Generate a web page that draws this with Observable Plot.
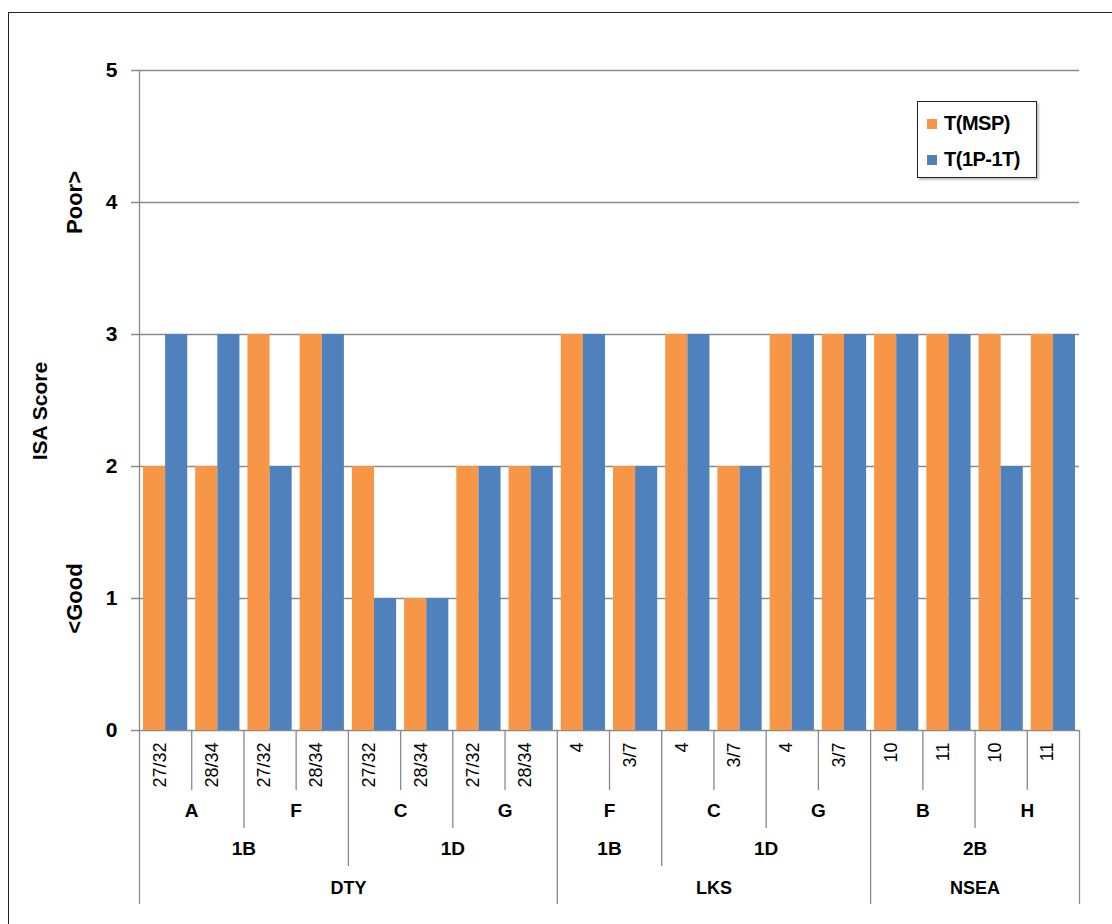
<!DOCTYPE html>
<html><head><meta charset="utf-8">
<script src="https://cdn.jsdelivr.net/npm/d3@7"></script>
<script src="https://cdn.jsdelivr.net/npm/@observablehq/plot@0.6"></script>
<style>
body{margin:0;background:#fff;font-family:"Liberation Sans",Arial,sans-serif}
#wrap{position:relative;width:1112px;height:924px;overflow:hidden}
#chart{position:absolute;left:0;top:0}
#border{position:absolute;left:8px;top:12px;width:1130px;height:940px;border:1px solid #222;pointer-events:none}
#legend{position:absolute;left:917px;top:101px;width:118px;height:75px;border:1px solid #222;box-shadow:2px 2px 2px rgba(0,0,0,0.25);background:#fff}
.item{position:absolute;left:9px;display:flex;align-items:center;font-weight:bold;font-size:20px;color:#000;letter-spacing:-0.5px}
.sw{width:10px;height:10px;margin-right:7px}
</style></head><body>
<div id="wrap"><div id="chart"></div><div id="border"></div><div id="legend"></div></div>
<script>
const seriesNames = ["T(MSP)", "T(1P-1T)"];
const seriesColors = ["#F79646", "#4F81BD"];
const periods = ["27/32","28/34","27/32","28/34","27/32","28/34","27/32","28/34","4","3/7","4","3/7","4","3/7","10","11","10","11"];
const sites   = ["A","A","F","F","C","C","G","G","F","F","C","C","G","G","B","B","H","H"];
const zones   = ["1B","1B","1B","1B","1D","1D","1D","1D","1B","1B","1D","1D","1D","1D","2B","2B","2B","2B"];
const regions = ["DTY","DTY","DTY","DTY","DTY","DTY","DTY","DTY","LKS","LKS","LKS","LKS","LKS","LKS","NSEA","NSEA","NSEA","NSEA"];
const mspScores    = [2,2,3,3,2,1,2,2,3,2,3,2,3,3,3,3,3,3];
const oneP1TScores = [3,3,2,3,1,1,2,2,3,2,3,2,3,3,3,3,2,3];
const yTicks = [0,1,2,3,4,5];
const yTitles = [{y: 1, t: "<Good", dx: -65, size: 22}, {y: 2.42, t: "ISA Score", dx: -99, size: 21}, {y: 4, t: "Poor>", dx: -65, size: 22}];

const n = periods.length;
const rows = periods.map((p, i) => ({i, period: p, msp: mspScores[i], one: oneP1TScores[i]}));
const regionKeys = regions;
const zoneKeys = regions.map((r, i) => r + "|" + zones[i]);
const siteKeys = zoneKeys.map((z, i) => z + "|" + sites[i]);
function runs(keys, labels) {
  const out = [];
  keys.forEach((k, i) => {
    if (i === 0 || keys[i - 1] !== k) out.push({label: labels[i], start: i, end: i + 1});
    else out[out.length - 1].end = i + 1;
  });
  return out;
}
const siteRuns = runs(siteKeys, sites);
const zoneRuns = runs(zoneKeys, zones);
const regionRuns = runs(regionKeys, regions);
const bounds = d3.range(n + 1).map(b => {
  let level;
  if (b === 0 || b === n || regionKeys[b] !== regionKeys[b - 1]) level = 4;
  else if (zoneKeys[b] !== zoneKeys[b - 1]) level = 3;
  else if (siteKeys[b] !== siteKeys[b - 1]) level = 2;
  else level = 1;
  return {b, level};
});
const depth = {1: 60, 2: 98, 3: 136, 4: 174};
const gray = "#8a8a8a";
const font = "'Liberation Sans', Arial, sans-serif";

const chart = Plot.plot({
  width: 1112, height: 924,
  marginLeft: 139, marginRight: 33, marginTop: 70, marginBottom: 194,
  style: {fontFamily: font, background: "transparent", overflow: "visible"},
  x: {type: "linear", domain: [0, n], axis: null},
  y: {domain: [0, 5], axis: null},
  marks: [
    Plot.ruleY(yTicks, {y: d => d, stroke: gray, strokeWidth: 1.3, insetLeft: -8}),
    Plot.ruleX([0], {x: d => d, stroke: gray, strokeWidth: 1.3}),
    Plot.rectY(rows, {x1: d => d.i, x2: d => d.i + 0.5, y1: 0, y2: "msp", fill: seriesColors[0], insetLeft: 4}),
    Plot.rectY(rows, {x1: d => d.i + 0.5, x2: d => d.i + 1, y1: 0, y2: "one", fill: seriesColors[1], insetRight: 4}),
    ...[1, 2, 3, 4].map(L => Plot.ruleX(bounds.filter(d => d.level === L), {x: "b", y1: 0, y2: 0, insetBottom: -depth[L], stroke: gray, strokeWidth: 1.3})),
    Plot.axisY(yTicks, {anchor: "left", tickSize: 0, tickPadding: 22, tickFormat: d3.format("d"), fontSize: 21, fontWeight: "bold", label: null, fill: "#000"}),
    Plot.text(yTitles, {y: "y", text: "t", frameAnchor: "left", textAnchor: "middle", rotate: -90, fontSize: d => d.size, fontWeight: "bold", fill: "#000"}),
    Plot.text(rows, {x: d => d.i + 0.5, text: "period", frameAnchor: "bottom", rotate: -90, textAnchor: "end", dy: 12, fontSize: 18, fill: "#000"}),
    Plot.text(siteRuns, {x: d => (d.start + d.end) / 2, text: "label", frameAnchor: "bottom", textAnchor: "middle", dy: 86, fontSize: 19, fontWeight: "bold", fill: "#000"}),
    Plot.text(zoneRuns, {x: d => (d.start + d.end) / 2, text: "label", frameAnchor: "bottom", textAnchor: "middle", dy: 124, fontSize: 19, fontWeight: "bold", fill: "#000"}),
    Plot.text(regionRuns, {x: d => (d.start + d.end) / 2, text: "label", frameAnchor: "bottom", textAnchor: "middle", dy: 163, fontSize: 18, fontWeight: "bold", fill: "#000"})
  ]
});
document.getElementById("chart").appendChild(chart);

// y-axis side titles: shift each to its own horizontal position
d3.select(chart).selectAll("g[aria-label='text']").filter((d, i) => i === 0).selectAll("text")
  .each(function(_, i) {
    const t = d3.select(this).attr("transform");
    d3.select(this).attr("transform", t.replace(/translate\(([-\d.]+),/, (m, x) => `translate(${+x + yTitles[i].dx},`));
  });

const legend = document.getElementById("legend");
seriesNames.forEach((s, k) => {
  const it = document.createElement("div");
  it.className = "item";
  it.style.top = (k === 0 ? 10 : 46) + "px";
  it.innerHTML = `<span class="sw" style="background:${seriesColors[k]}"></span><span>${s}</span>`;
  legend.appendChild(it);
});
</script>
</body></html>
